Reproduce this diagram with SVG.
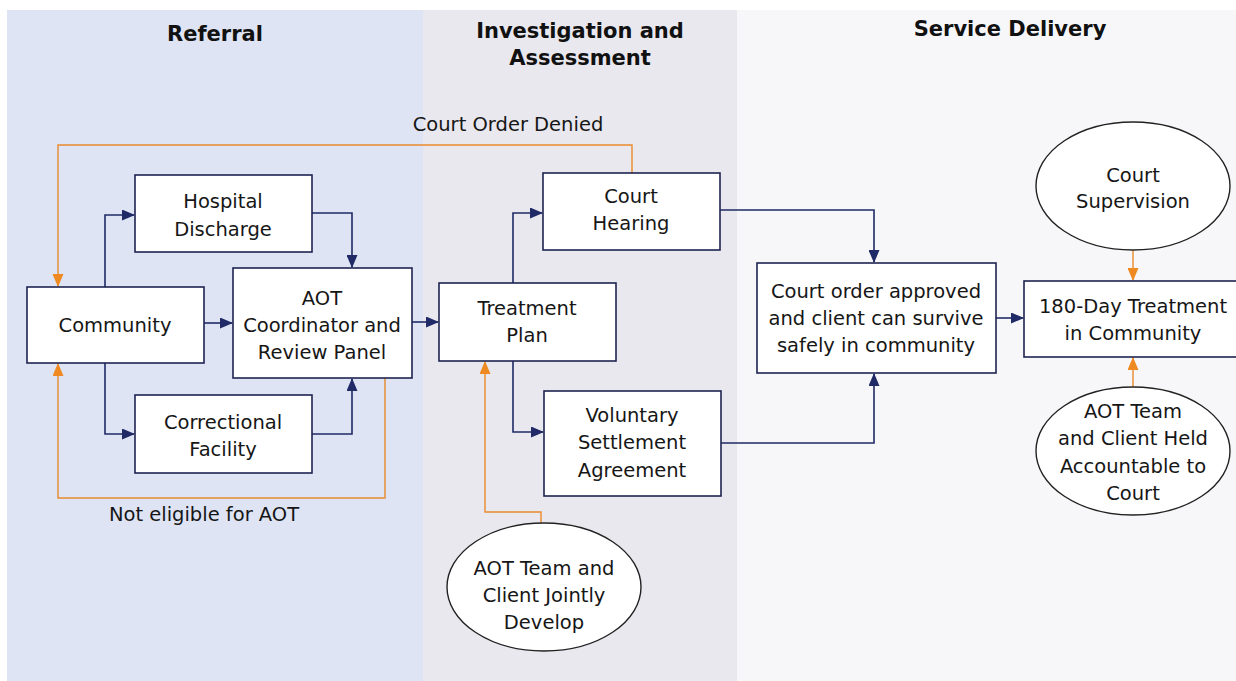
<svg xmlns="http://www.w3.org/2000/svg" width="1236" height="681" viewBox="0 0 1236 681">
<style>
.t{font-family:"DejaVu Sans","Liberation Sans",sans-serif;font-size:19.5px;fill:#161616;text-anchor:middle}
.h{font-family:"DejaVu Sans","Liberation Sans",sans-serif;font-size:21px;font-weight:bold;fill:#111;text-anchor:middle}
.box{fill:#fff;stroke:#1d2350;stroke-width:1.6}
.ell{fill:#fff;stroke:#222;stroke-width:1.4}
.nv{fill:none;stroke:#1f2a66;stroke-width:1.6}
.or{fill:none;stroke:#e98a2c;stroke-width:1.4}
</style>
<defs>
<marker id="an" markerUnits="userSpaceOnUse" markerWidth="13" markerHeight="11" refX="12" refY="5.5" orient="auto"><path d="M0,0 L13,5.5 L0,11 Z" fill="#1f2a66"/></marker>
<marker id="ao" markerUnits="userSpaceOnUse" markerWidth="13" markerHeight="11" refX="12" refY="5.5" orient="auto"><path d="M0,0 L13,5.5 L0,11 Z" fill="#ef8a22"/></marker>
</defs>
<rect x="0" y="0" width="1236" height="681" fill="#fff"/>
<g id="panels">
<rect x="7" y="10" width="416" height="671" fill="#dee4f4"/>
<rect x="423" y="10" width="314" height="671" fill="#e9e8ef"/>
<rect x="737" y="10" width="499" height="671" fill="#f7f7f9"/>
</g>
<g id="titles">
<text class="h" x="215" y="41">Referral</text>
<text class="h" x="580" y="38">Investigation and</text>
<text class="h" x="580" y="65">Assessment</text>
<text class="h" x="1010" y="36">Service Delivery</text>
</g>
<g id="connectors">
<path class="or" d="M632,173 V145 H58 V286" marker-end="url(#ao)"/>
<path class="or" d="M385,378 V498 H58 V364" marker-end="url(#ao)"/>
<path class="or" d="M541,523 V512 H485 V362" marker-end="url(#ao)"/>
<path class="or" d="M1133,250 V280" marker-end="url(#ao)"/>
<path class="or" d="M1133,387 V358" marker-end="url(#ao)"/>
<path class="nv" d="M105,287 V215 H134" marker-end="url(#an)"/>
<path class="nv" d="M312,213 H352 V267" marker-end="url(#an)"/>
<path class="nv" d="M204,323 H232" marker-end="url(#an)"/>
<path class="nv" d="M105,363 V434 H134" marker-end="url(#an)"/>
<path class="nv" d="M312,434 H352 V379" marker-end="url(#an)"/>
<path class="nv" d="M412,322 H438" marker-end="url(#an)"/>
<path class="nv" d="M513,283 V213 H542" marker-end="url(#an)"/>
<path class="nv" d="M513,361 V432 H543" marker-end="url(#an)"/>
<path class="nv" d="M720,210 H874 V262" marker-end="url(#an)"/>
<path class="nv" d="M721,443 H874 V374" marker-end="url(#an)"/>
<path class="nv" d="M996,318 H1023" marker-end="url(#an)"/>
<text class="t" x="508" y="131">Court Order Denied</text>
<text class="t" x="204" y="521">Not eligible for AOT</text>
</g>
<g id="hospital">
<rect class="box" x="135" y="175" width="177" height="77"/>
<text class="t" x="223" y="208">Hospital</text>
<text class="t" x="223" y="236">Discharge</text>
</g>
<g id="community">
<rect class="box" x="27" y="287" width="177" height="76"/>
<text class="t" x="115" y="332">Community</text>
</g>
<g id="aot-panel">
<rect class="box" x="233" y="268" width="179" height="110"/>
<text class="t" x="322" y="305">AOT</text>
<text class="t" x="322" y="332">Coordinator and</text>
<text class="t" x="322" y="359">Review Panel</text>
</g>
<g id="correctional">
<rect class="box" x="135" y="395" width="177" height="78"/>
<text class="t" x="223" y="429">Correctional</text>
<text class="t" x="223" y="456">Facility</text>
</g>
<g id="treatment-plan">
<rect class="box" x="439" y="283" width="177" height="78"/>
<text class="t" x="527" y="315">Treatment</text>
<text class="t" x="527" y="342">Plan</text>
</g>
<g id="court-hearing">
<rect class="box" x="543" y="173" width="177" height="77"/>
<text class="t" x="631" y="203">Court</text>
<text class="t" x="631" y="230">Hearing</text>
</g>
<g id="voluntary">
<rect class="box" x="544" y="391" width="177" height="105"/>
<text class="t" x="632" y="422">Voluntary</text>
<text class="t" x="632" y="449">Settlement</text>
<text class="t" x="632" y="477">Agreement</text>
</g>
<g id="jointly">
<ellipse class="ell" cx="544" cy="587" rx="97" ry="64"/>
<text class="t" x="544" y="575">AOT Team and</text>
<text class="t" x="544" y="602">Client Jointly</text>
<text class="t" x="544" y="629">Develop</text>
</g>
<g id="approved">
<rect class="box" x="757" y="263" width="239" height="110"/>
<text class="t" x="876" y="298">Court order approved</text>
<text class="t" x="876" y="325">and client can survive</text>
<text class="t" x="876" y="352">safely in community</text>
</g>
<g id="treatment-180">
<rect class="box" x="1024" y="281" width="230" height="76"/>
<text class="t" x="1133" y="313">180-Day Treatment</text>
<text class="t" x="1133" y="340">in Community</text>
</g>
<g id="supervision">
<ellipse class="ell" cx="1133" cy="186" rx="97" ry="64"/>
<text class="t" x="1133" y="182">Court</text>
<text class="t" x="1133" y="208">Supervision</text>
</g>
<g id="accountable">
<ellipse class="ell" cx="1133" cy="451" rx="97" ry="64"/>
<text class="t" x="1133" y="418">AOT Team</text>
<text class="t" x="1133" y="445">and Client Held</text>
<text class="t" x="1133" y="473">Accountable to</text>
<text class="t" x="1133" y="500">Court</text>
</g>
</svg>
